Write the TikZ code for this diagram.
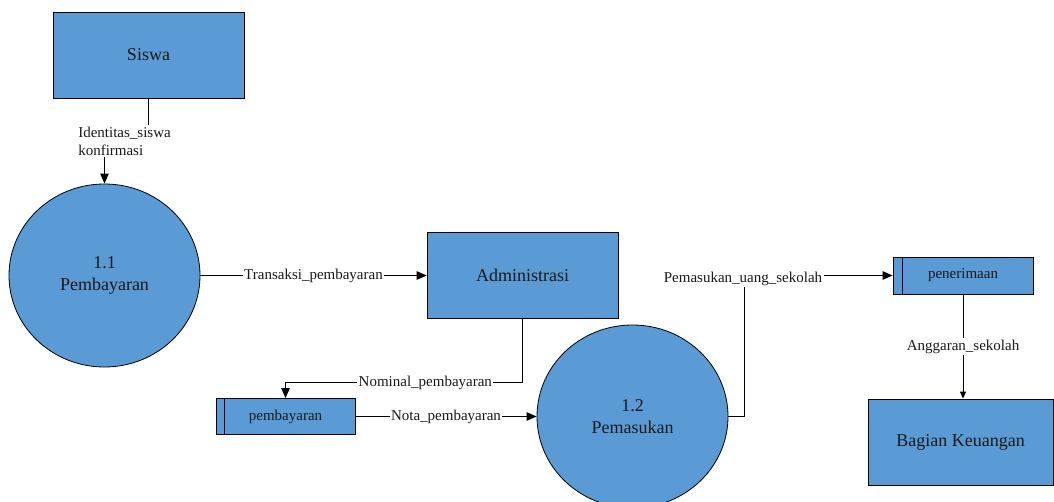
\documentclass[tikz,border=0pt]{standalone}
\usepackage{fontspec}
\setmainfont{Liberation Serif}
\usetikzlibrary{arrows.meta,shapes.geometric}
\definecolor{dfdblue}{RGB}{91,155,213}
\definecolor{txt}{RGB}{25,25,25}
\tikzset{
  entity/.style={draw=black, line width=0.8pt, fill=dfdblue, text=txt, minimum width=191pt, minimum height=86pt, inner sep=0pt, font=\fontsize{18}{22}\selectfont},
  proc/.style={ellipse, draw=black, line width=0.8pt, fill=dfdblue, text=txt, minimum width=191pt, minimum height=183pt, inner sep=0pt, align=center, font=\fontsize{18}{22}\selectfont},
  store/.style={draw=black, line width=0.8pt, fill=dfdblue, text=txt, inner sep=0pt, font=\fontsize{15}{18}\selectfont},
  lbl/.style={fill=white, text=txt, inner sep=1.5pt, font=\fontsize{15}{18}\selectfont},
  flow/.style={draw=black, line width=1pt, -{Triangle[length=10pt,width=8.5pt]}},
  smallflow/.style={draw=black, line width=1pt, -{Triangle[length=7pt,width=6pt]}},
}
\begin{document}
\begin{tikzpicture}[x=1pt,y=-1pt]
\useasboundingbox (0,0) rectangle (1054,502);

% nodes
\node[entity] (siswa) at (148.5,55) {Siswa};
\node[proc] (p11) at (104.5,275.5) {1.1\\Pembayaran};
\node[entity] (admin) at (522.5,275.5) {Administrasi};
\node[store, minimum width=139pt, minimum height=36pt] (pemb) at (285.5,416.5) {pembayaran};
\draw[line width=0.8pt] ([xshift=9pt]pemb.north west) -- ([xshift=9pt]pemb.south west);
\node[proc] (p12) at (632.5,416.5) {1.2\\Pemasukan};
\node[store, minimum width=140pt, minimum height=37pt] (pener) at (963,275.5) {penerimaan};
\draw[line width=0.8pt] ([xshift=10pt]pener.north west) -- ([xshift=10pt]pener.south west);
\node[entity, minimum width=185pt] (keu) at (960.5,442) {Bagian Keuangan};

% flows
\draw[flow] (siswa.south) -- ++(0,43) -| (p11.north);
\node[lbl, align=left] (idlbl) at (124.5,141) {Identitas\_siswa\\konfirmasi};

\draw[flow] (p11.east) -- node[lbl]{Transaksi\_pembayaran} (admin.west);

\draw[flow] (admin.south) -- ++(0,64) -| node[lbl, pos=0.205]{Nominal\_pembayaran} (pemb.north);

\draw[flow] (pemb.east) -- node[lbl]{Nota\_pembayaran} (p12.west);

\coordinate (c1) at (744,275.5);
\draw[flow] (p12.east) -| (c1) -- (pener.west);
\node[lbl] (pmlbl) at (743,279) {Pemasukan\_uang\_sekolah};

\draw[smallflow] (pener.south) -- node[lbl]{Anggaran\_sekolah} (pener.south |- keu.north);
\end{tikzpicture}
\end{document}
